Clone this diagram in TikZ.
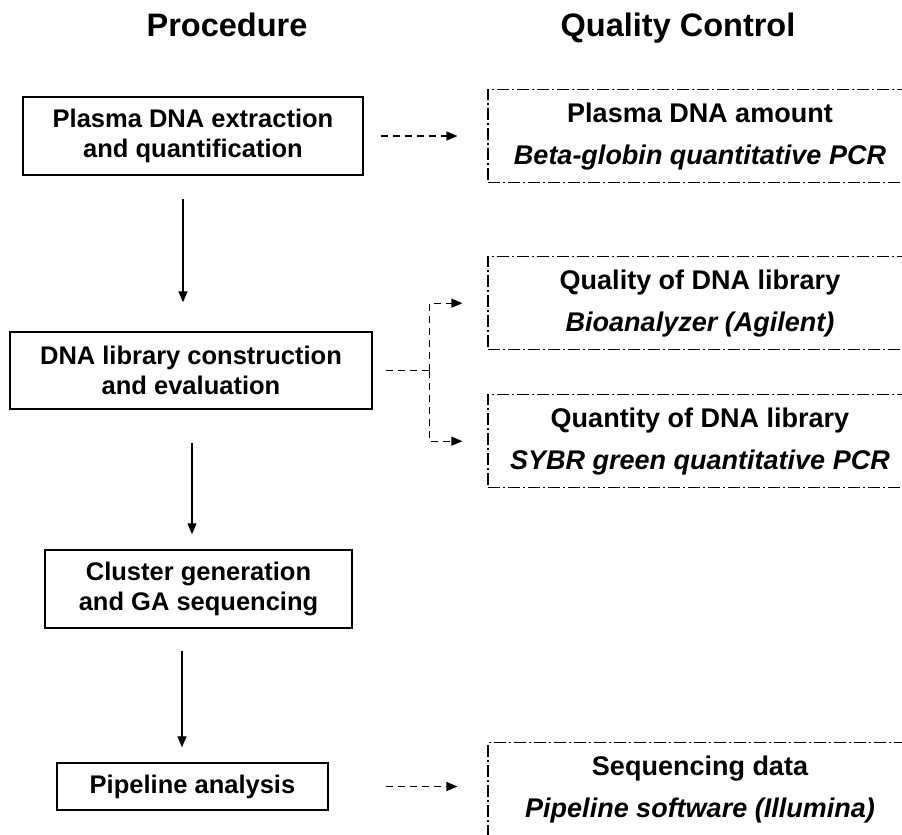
\documentclass[tikz,border=0pt]{standalone}
\usepackage{fontspec}
\setmainfont{Liberation Sans}
\usetikzlibrary{arrows.meta, positioning, calc}

\tikzset{
    procbox/.style={draw, line width=1.4pt, align=center, inner sep=0pt,
                    font=\fontsize{25.5}{30}\selectfont\bfseries},
    qcbox/.style={draw, line width=1.2pt, dash pattern=on 12pt off 3pt on 2pt off 3pt,
                  align=center, anchor=north, minimum width=424pt, inner ysep=13pt,
                  font=\fontsize{27}{42}\selectfont\bfseries},
    heading/.style={anchor=base, font=\fontsize{32.5}{36}\selectfont\bfseries},
    flow/.style={-{Triangle[length=11pt,width=9pt]}, line width=1.3pt},
    qcflow/.style={-{Triangle[length=11pt,width=9pt]}, line width=1.2pt, dash pattern=on 7pt off 5pt},
}

\begin{document}
\begin{tikzpicture}[x=1pt, y=-1pt]
    \useasboundingbox (0,0) rectangle (902,835);
    \clip (0,0) rectangle (902,835);

    % Headings
    \node[heading] (proc) at (227,36) {Procedure};
    \node[heading] (qc) at (678,36) {Quality Control};

    % Procedure
    \node[procbox, minimum width=340pt, minimum height=78pt] (extract) at (193,136)
        {Plasma DNA extraction\\and quantification};
    \node[procbox, minimum width=362pt, minimum height=77pt] (library) at (191,370.5)
        {DNA library construction\\and evaluation};
    \node[procbox, minimum width=307pt, minimum height=78pt] (cluster) at (198.5,589)
        {Cluster generation\\and GA sequencing};
    \node[procbox, minimum width=271pt, minimum height=47pt] (pipeline) at (192.5,786.5)
        {Pipeline analysis};

    % Quality control
    \node[qcbox] (amount) at (700,89)
        {Plasma DNA amount\\{\itshape Beta-globin quantitative PCR}};
    \node[qcbox] (quality) at (700,256)
        {Quality of DNA library\\{\itshape Bioanalyzer (Agilent)}};
    \node[qcbox] (quantity) at (700,394)
        {Quantity of DNA library\\{\itshape SYBR green quantitative PCR}};
    \node[qcbox] (seqdata) at (700,742)
        {Sequencing data\\{\itshape Pipeline software (Illumina)}\\\mbox{}};

    % Paths
    \draw[flow, shorten <=23pt, shorten >=29pt] ([xshift=-10pt]extract.south) -- ([xshift=-10pt]extract.south |- library.north);
    \draw[flow, shorten <=33pt, shorten >=15pt] ([xshift=1pt]library.south) -- ([xshift=1pt]library.south |- cluster.north);
    \draw[flow, shorten <=22pt, shorten >=15pt] ([xshift=-16.5pt]cluster.south) -- ([xshift=-16.5pt]cluster.south |- pipeline.north);

    \draw[qcflow, shorten <=17pt, shorten >=30pt] (extract.east) -- (extract.east -| amount.west);
    \coordinate (fork) at ($(library.east)+(57,0)$);
    \draw[qcflow, shorten <=13pt, -] (library.east) -- (fork);
    \draw[qcflow, shorten >=25pt] (fork) |- (quality.west);
    \draw[qcflow, shorten >=25pt] (fork) |- (quantity.west);
    \draw[qcflow, shorten <=57pt, shorten >=30pt] (pipeline.east) -- (pipeline.east -| seqdata.west);
\end{tikzpicture}
\end{document}
